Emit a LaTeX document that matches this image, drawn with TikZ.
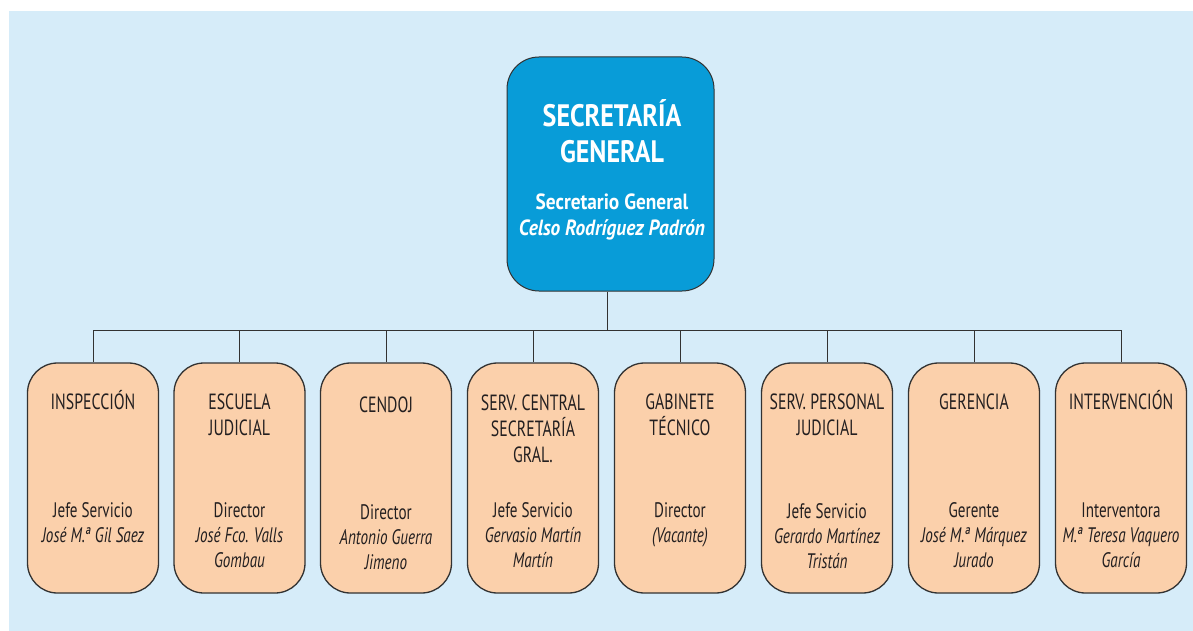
\documentclass[tikz,border=0pt]{standalone}
\usepackage{fontspec}
\newfontfamily\gill{PT Sans}[FakeStretch=0.72]
\newfontfamily\gilltitle{PT Sans}[FakeStretch=0.84]
\newfontfamily\gillsub{PT Sans}[FakeStretch=0.88]
\definecolor{bgblue}{RGB}{214,236,249}
\definecolor{topblue}{RGB}{8,156,216}
\definecolor{peach}{RGB}{251,208,171}
\definecolor{ink}{RGB}{35,31,32}
\definecolor{edge}{RGB}{50,50,50}
\begin{document}
\begin{tikzpicture}[x=1pt,y=-1pt,
  topbox/.style={draw=edge, line width=1pt, fill=topblue, rounded corners=32pt,
    minimum width=207pt, minimum height=234pt, inner sep=0pt},
  unitbox/.style={draw=edge, line width=1.3pt, fill=peach, rounded corners=30pt,
    minimum width=131pt, minimum height=230pt, inner sep=0pt},
  toptitle/.style={font=\gilltitle\bfseries\fontsize{31}{36}\selectfont, text=white, align=center, anchor=base, inner sep=0pt},
  topsub/.style={font=\gillsub\bfseries\fontsize{22}{26}\selectfont, text=white, align=center, anchor=base, inner sep=0pt},
  unittitle/.style={font=\gill\fontsize{22}{26}\selectfont, text=ink, align=center, anchor=base, inner sep=0pt},
  unitsub/.style={font=\gill\fontsize{21}{25}\selectfont, text=ink, align=center, anchor=base, inner sep=0pt},
  link/.style={draw=edge, line width=1pt}]
\useasboundingbox (0,0) rectangle (1193,631);
\fill[bgblue] (9,11) rectangle (1193,631);

\node[topbox] (top) at (610.5,174) {};
% anchor=base of a multi-line node is the baseline of its last line
\node[toptitle] (toptxt) at (612,163) {SECRETARÍA\\GENERAL};
\node[topsub] (topname) at (612,235) {Secretario General\\{\itshape Celso Rodríguez Padrón}};

\coordinate (bus) at (607,330);

\foreach \i/\x in {1/93,2/239.5,3/386,4/533,5/680,6/827,7/974,8/1121}{
  \node[unitbox] (b\i) at (\x,478) {};
}

\node[unittitle] (t1) at (b1.center |- 0,409) {INSPECCIÓN};
\node[unittitle] (t2) at (b2.center |- 0,435) {ESCUELA\\JUDICIAL};
\node[unittitle] (t3) at (b3.center |- 0,412) {CENDOJ};
\node[unittitle] (t4) at (b4.center |- 0,462) {SERV. CENTRAL\\SECRETARÍA\\GRAL.};
\node[unittitle] (t5) at (b5.center |- 0,435) {GABINETE\\TÉCNICO};
\node[unittitle] (t6) at (b6.center |- 0,435) {SERV. PERSONAL\\JUDICIAL};
\node[unittitle] (t7) at (b7.center |- 0,409) {GERENCIA};
\node[unittitle] (t8) at (b8.center |- 0,409) {INTERVENCIÓN};

\node[unitsub] (s1) at (b1.center |- 0,542) {Jefe Servicio\\{\itshape José M.ª Gil Saez}};
\node[unitsub] (s2) at (b2.center |- 0,567) {Director\\{\itshape José Fco. Valls}\\{\itshape Gombau}};
\node[unitsub] (s3) at (b3.center |- 0,569) {Director\\{\itshape Antonio Guerra}\\{\itshape Jimeno}};
\node[unitsub] (s4) at (b4.center |- 0,567) {Jefe Servicio\\{\itshape Gervasio Martín}\\{\itshape Martín}};
\node[unitsub] (s5) at (b5.center |- 0,542) {Director\\{\itshape (Vacante)}};
\node[unitsub] (s6) at (b6.center |- 0,568) {Jefe Servicio\\{\itshape Gerardo Martínez}\\{\itshape Tristán}};
\node[unitsub] (s7) at (b7.center |- 0,567) {Gerente\\{\itshape José M.ª Márquez}\\{\itshape Jurado}};
\node[unitsub] (s8) at (b8.center |- 0,567) {Interventora\\{\itshape M.ª Teresa Vaquero}\\{\itshape García}};

\draw[link] (top.south -| bus) -- (bus);
\draw[link] (b1.north |- bus) -- (b8.north |- bus);
\foreach \i in {1,...,8}{
  \draw[link] (b\i.north |- bus) -- (b\i.north);
}
\end{tikzpicture}
\end{document}
